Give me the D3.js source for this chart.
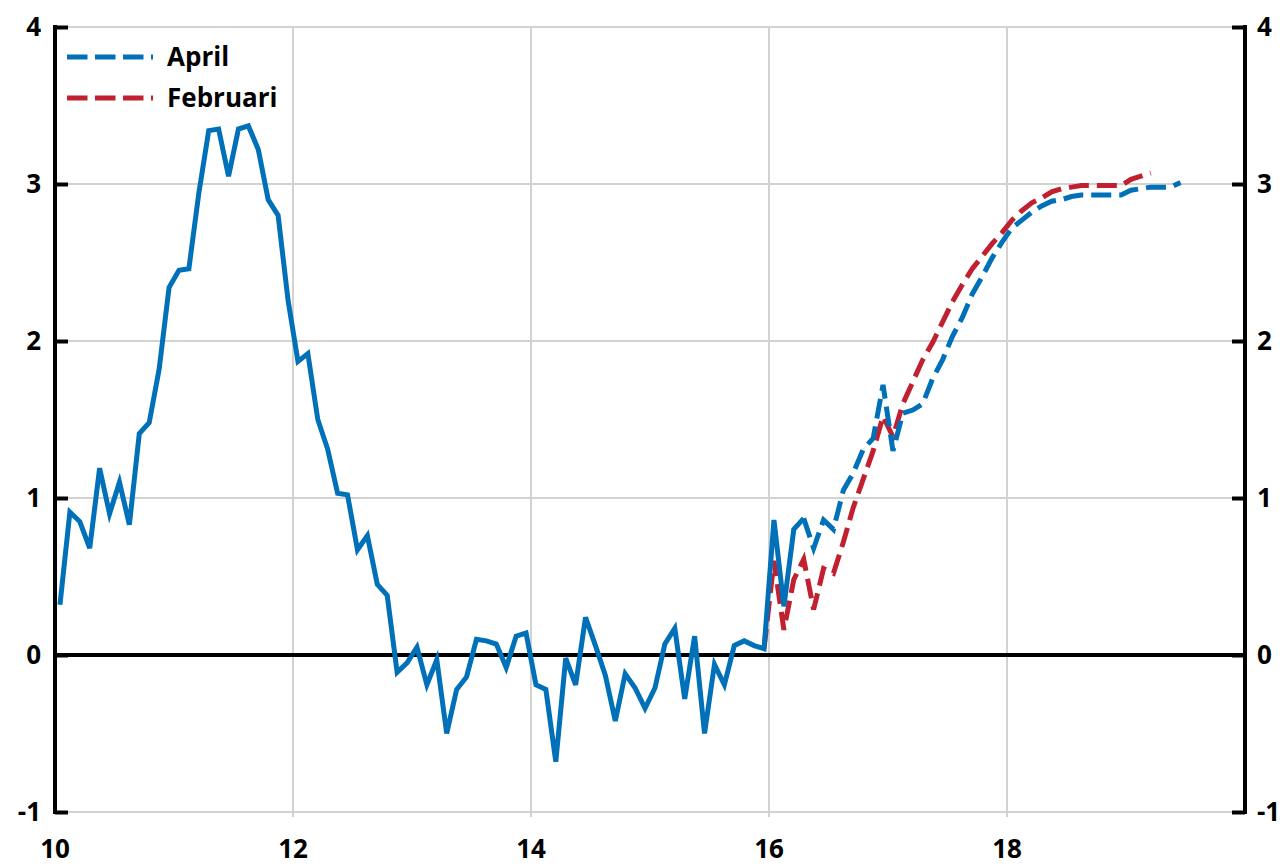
<!DOCTYPE html>
<html>
<head>
<meta charset="utf-8">
<script src="https://cdn.jsdelivr.net/npm/d3@7"></script>
<style>
  html, body { margin: 0; padding: 0; background: #fff; }
  svg { display: block; font-family: "Open Sans", Lato, sans-serif; font-weight: 700; }
</style>
</head>
<body>
<div id="chart"></div>
<script>
// monthly outcome, Jan 2010 - Apr 2016
const outcome = [
  0.32, 0.91, 0.85, 0.68, 1.19, 0.90, 1.10, 0.83, 1.41, 1.48, 1.82, 2.34,
  2.45, 2.46, 2.94, 3.34, 3.35, 3.05, 3.35, 3.37, 3.22, 2.90, 2.80, 2.26,
  1.87, 1.92, 1.50, 1.31, 1.03, 1.02, 0.67, 0.76, 0.45, 0.38, -0.11, -0.05,
  0.05, -0.19, -0.03, -0.50, -0.22, -0.14, 0.10, 0.09, 0.07, -0.08, 0.12, 0.14,
  -0.19, -0.22, -0.68, -0.02, -0.19, 0.24, 0.06, -0.13, -0.42, -0.12, -0.21, -0.34,
  -0.21, 0.07, 0.17, -0.28, 0.12, -0.50, -0.06, -0.19, 0.06, 0.09, 0.06, 0.04,
  0.86, 0.31, 0.80, 0.87
];
const outcomeStart = 0; // months after Jan 2010

// April forecast, Apr 2016 - Jun 2019
const april = [
  0.87, 0.68, 0.86, 0.80, 1.05, 1.16, 1.31, 1.38, 1.72,
  1.30, 1.54, 1.56, 1.60, 1.76, 1.88, 2.03, 2.15, 2.30, 2.41, 2.53, 2.63,
  2.72, 2.77, 2.82, 2.86, 2.89, 2.90, 2.92, 2.93, 2.93, 2.93, 2.93, 2.93,
  2.96, 2.97, 2.98, 2.98, 2.98, 3.01
];
const aprilStart = 75;

// Februari forecast, Dec 2015 - Mar 2019
const februari = [
  0.04,
  0.60, 0.16, 0.48, 0.61, 0.29, 0.55, 0.52, 0.72, 0.94, 1.12, 1.30, 1.52,
  1.39, 1.60, 1.74, 1.88, 1.99, 2.12, 2.25, 2.36, 2.46, 2.54, 2.62, 2.69,
  2.77, 2.83, 2.88, 2.91, 2.95, 2.97, 2.98, 2.99, 2.99, 2.99, 2.99, 2.99,
  3.03, 3.05, 3.07
];
const februariStart = 71;

const xTicks = [10, 12, 14, 16, 18];
const xTickLabels = ['10', '12', '14', '16', '18'];
const yTicks = [-1, 0, 1, 2, 3, 4];
const legendNames = ['April', 'Februari'];

const blue = '#0070b8', red = '#c0202f';

const W = 1285, H = 867;
const svg = d3.select('#chart').append('svg').attr('width', W).attr('height', H);

const x = d3.scaleLinear().domain([10, 20]).range([55, 1245]);
const y = d3.scaleLinear().domain([-1, 4]).range([812, 27]);

const toPoints = (vals, start) => vals.map((v, i) => ({ t: 10 + (start + i + 0.5) / 12, v }));

// gridlines
svg.append('g')
  .selectAll('line.hg')
  .data(yTicks.filter(d => d !== 0))
  .join('line')
    .attr('x1', x(10)).attr('x2', x(20))
    .attr('y1', d => y(d)).attr('y2', d => y(d))
    .attr('stroke', '#d2d2d2').attr('stroke-width', 2);

svg.append('g')
  .selectAll('line.vg')
  .data(xTicks.filter(d => d !== 10))
  .join('line')
    .attr('x1', d => x(d)).attr('x2', d => x(d))
    .attr('y1', y(4)).attr('y2', y(-1) + 5)
    .attr('stroke', '#d2d2d2').attr('stroke-width', 2);

// zero line
svg.append('line')
  .attr('x1', x(10)).attr('x2', x(20))
  .attr('y1', y(0)).attr('y2', y(0))
  .attr('stroke', '#000').attr('stroke-width', 4);

// axes
const left = svg.append('g').attr('transform', `translate(${x(10)},0)`)
  .call(d3.axisRight(y).tickValues(yTicks).tickSize(13).tickFormat(''));
const right = svg.append('g').attr('transform', `translate(${x(20)},0)`)
  .call(d3.axisLeft(y).tickValues(yTicks).tickSize(13).tickFormat(''));
[left, right].forEach(g => {
  g.select('.domain').attr('stroke', '#000').attr('stroke-width', 4).attr('d', `M0,${y(4) - 2}V${y(-1) + 2}`);
  g.selectAll('.tick line').attr('stroke', '#000').attr('stroke-width', 4);
});

svg.append('g').selectAll('text')
  .data(yTicks)
  .join('text')
    .attr('x', 41).attr('y', d => y(d) + 9)
    .attr('text-anchor', 'end')
    .attr('font-size', 26)
    .text(d => d);

svg.append('g').selectAll('text')
  .data(yTicks)
  .join('text')
    .attr('x', 1257).attr('y', d => y(d) + 9)
    .attr('text-anchor', 'start')
    .attr('font-size', 26)
    .text(d => d);

svg.append('g').selectAll('text')
  .data(xTicks)
  .join('text')
    .attr('x', d => x(d)).attr('y', 858)
    .attr('text-anchor', 'middle')
    .attr('font-size', 26)
    .text((d, i) => xTickLabels[i]);

// lines
const line = d3.line().x(d => x(d.t)).y(d => y(d.v));

svg.append('path')
  .datum(toPoints(februari, februariStart))
  .attr('d', line)
  .attr('fill', 'none').attr('stroke', red).attr('stroke-width', 5)
  .attr('stroke-dasharray', '20,8');

svg.append('path')
  .datum(toPoints(april, aprilStart))
  .attr('d', line)
  .attr('fill', 'none').attr('stroke', blue).attr('stroke-width', 5)
  .attr('stroke-dasharray', '20,8');

svg.append('path')
  .datum(toPoints(outcome, outcomeStart))
  .attr('d', line)
  .attr('fill', 'none').attr('stroke', blue).attr('stroke-width', 5)
  .attr('stroke-linejoin', 'miter');

// legend
const legend = svg.append('g');
legendNames.forEach((name, i) => {
  const ly = 57 + i * 41;
  legend.append('line')
    .attr('x1', 67).attr('x2', 153)
    .attr('y1', ly).attr('y2', ly)
    .attr('stroke', i === 0 ? blue : red).attr('stroke-width', 5)
    .attr('stroke-dasharray', '20.5,7.5');
  legend.append('text')
    .attr('x', 167).attr('y', ly + 9)
    .attr('font-size', 26)
    .text(name);
});
</script>
</body>
</html>
